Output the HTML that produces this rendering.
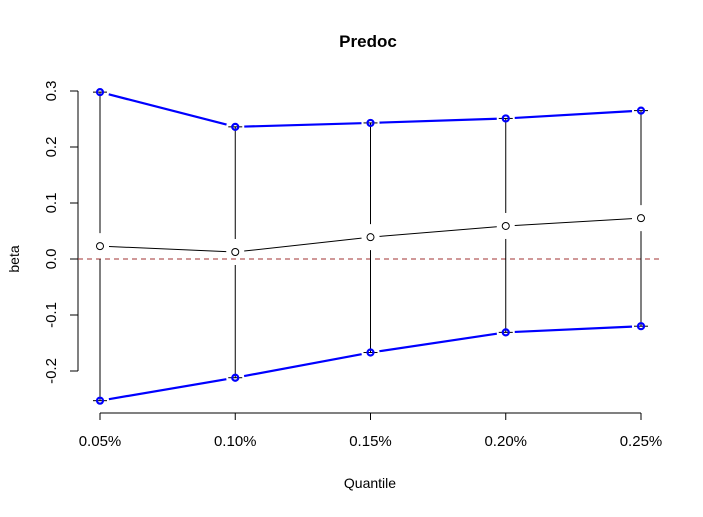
<!DOCTYPE html>
<html><head><meta charset="utf-8"><style>
body{margin:0;background:#fff}
svg{font-family:"Liberation Sans",sans-serif}
</style></head><body>
<svg id="c" width="703" height="512">
<text x="368" y="47" text-anchor="middle" font-weight="bold" font-size="17">Predoc</text>
<text x="370" y="488" text-anchor="middle" font-size="14">Quantile</text>
<text transform="translate(19,259) rotate(-90)" text-anchor="middle" font-size="14">beta</text>
<g id="g"></g>
</svg>
<script>
const categories=["0.05%","0.10%","0.15%","0.20%","0.25%"];
const upper=[0.298,0.236,0.243,0.251,0.265];
const mid=[0.023,0.0125,0.039,0.059,0.073];
const lower=[-0.253,-0.212,-0.167,-0.131,-0.120];
const yTicks=[-0.2,-0.1,0.0,0.1,0.2,0.3];
const yTickLabels=["-0.2","-0.1","0.0","0.1","0.2","0.3"];
const NS="http://www.w3.org/2000/svg";
const g=document.getElementById('g');
const xs=i=>100+i*(641-100)/(categories.length-1);
const ys=v=>259-v*560;
function el(t,a,p){const e=document.createElementNS(NS,t);for(const k in a)e.setAttribute(k,a[k]);(p||g).appendChild(e);return e;}
let e=el('line',{x1:78,y1:ys(-0.2),x2:78,y2:ys(0.3),stroke:'#000'});

yTicks.forEach((v,i)=>{el('line',{x1:70,x2:78,y1:ys(v),y2:ys(v),stroke:'#000'});
 const t=el('text',{transform:`translate(56,${ys(v)}) rotate(-90)`,'text-anchor':'middle','font-size':15});t.textContent=yTickLabels[i];
 });
e=el('line',{x1:xs(0),x2:xs(categories.length-1),y1:413,y2:413,stroke:'#000'});

categories.forEach((c,i)=>{el('line',{x1:xs(i),x2:xs(i),y1:413,y2:420,stroke:'#000'});
 const t=el('text',{x:xs(i),y:446,'text-anchor':'middle','font-size':15});t.textContent=c;
 });
e=el('line',{x1:78,x2:659,y1:ys(0),y2:ys(0),stroke:'#a03030',"stroke-dasharray":"5,4"});

categories.forEach((c,i)=>{const x=xs(i);
 el('line',{x1:x,x2:x,y1:ys(upper[i]),y2:ys(mid[i])-13,stroke:'#000'});
 el('line',{x1:x,x2:x,y1:ys(mid[i])+13,y2:ys(lower[i]),stroke:'#000'});
 [upper[i],lower[i]].forEach(v=>el('line',{x1:x-7,x2:x+7,y1:ys(v),y2:ys(v),stroke:'#000'}));});
function series(arr,col,w,name){
 for(let i=0;i<arr.length-1;i++){const x1=xs(i),y1=ys(arr[i]),x2=xs(i+1),y2=ys(arr[i+1]);
  const d=Math.hypot(x2-x1,y2-y1),ux=(x2-x1)/d,uy=(y2-y1)/d;
  const l=el('line',{x1:x1+ux*9,y1:y1+uy*9,x2:x2-ux*9,y2:y2-uy*9,stroke:col,'stroke-width':w});
  }
 arr.forEach((v,i)=>{const p=el('circle',{cx:xs(i),cy:ys(v),r:w>1?3:3.5,fill:'none',stroke:col,'stroke-width':w});
  });
}
series(upper,'#0000ff',2.2,'upper');
series(lower,'#0000ff',2.2,'lower');
series(mid,'#000',1,'estimate');
</script>
</body></html>
